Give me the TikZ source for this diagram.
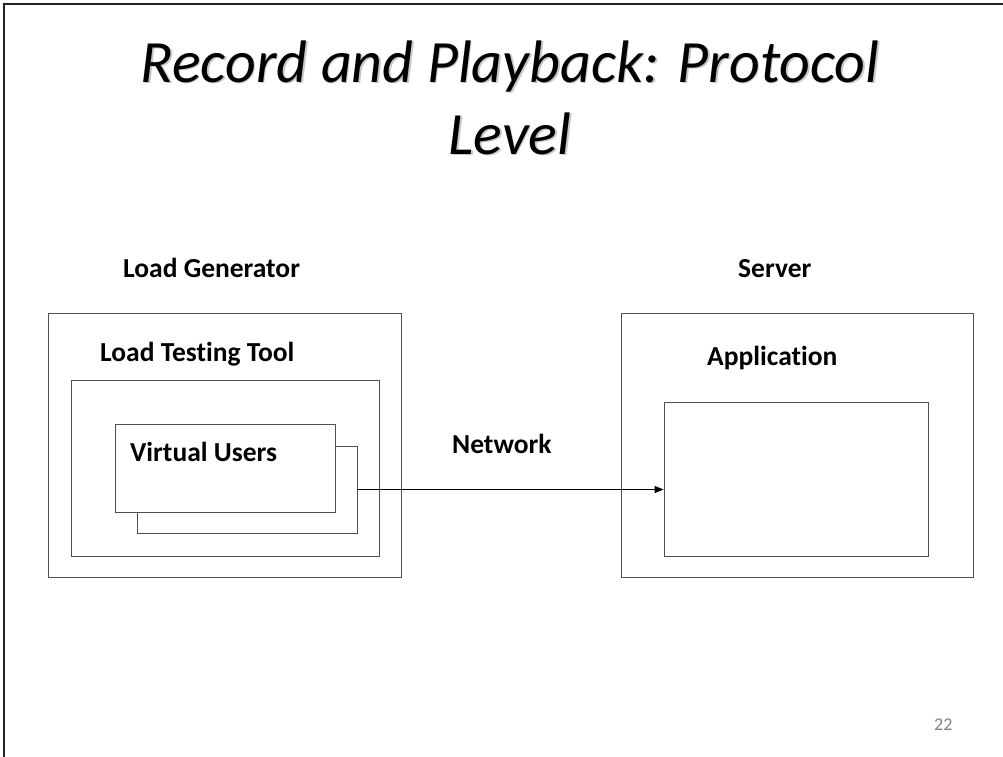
\documentclass[tikz,border=0pt]{standalone}
\usepackage{fontspec}
\setmainfont{Carlito}[Ligatures=NoCommon]
\usetikzlibrary{arrows.meta,positioning}
\definecolor{boxline}{RGB}{80,80,80}
\definecolor{pagenum}{RGB}{130,130,130}
\tikzset{
  % boxes on the slide
  frame/.style={draw=boxline, line width=0.9pt, minimum width=#1, inner sep=0pt},
  frame/.default=2cm,
  % bold labels
  lbl/.style={font=\fontsize{27.5}{32}\selectfont\bfseries, inner sep=0pt, anchor=base west},
  ttl/.style={font=\fontsize{60}{72}\selectfont\itshape, align=center, inner sep=0pt, anchor=base},
  arr/.style={-{Triangle[length=9pt, width=7pt]}, line width=0.9pt, black},
}
\newcommand{\slidetitle}{Record and Playback: Protocol\\Level}
\begin{document}
\begin{tikzpicture}[x=1pt, y=-1pt]
    \useasboundingbox (0,0) rectangle (1003,756);
    \fill[white] (0,0) rectangle (1003,756);
    % slide border
    \draw[line width=2.5pt, black!85] (4,760) -- (4,4) -- (1010,4);

    % title
    \node[ttl, text=black!22] (titleshadow) at (511.5,155.5) {\slidetitle};
    \node[ttl] (title) at (510,154) {\slidetitle};

    % load generator side
    \node[frame=353pt, minimum height=264pt] (gen) at (224.5,445) {};
    \node[frame=308pt, minimum height=176pt] (tool) at (225,468) {};
    \node[frame=220pt, minimum height=87pt] (vuback) at (247,489.5) {};
    \node[frame=220pt, minimum height=88pt, fill=white] (vufront) at (225,468) {};

    % server side
    \node[frame=352pt, minimum height=264pt] (server) at (797,445) {};
    \node[frame=264pt, minimum height=154pt] (app) at (796,479) {};

    \node[lbl] (genlbl) at (123,277) {Load Generator};
    \node[lbl] (serverlbl) at (738,277) {Server};
    \node[lbl] (toollbl) at (100,361) {Load Testing Tool};
    \node[lbl] (vulbl) at (130,461) {Virtual Users};
    \node[lbl] (applbl) at (707,365) {Application};
    \node[lbl] (netlbl) at (452,453) {Network};

    \draw[arr] (vuback.east) -- (vuback.east -| app.west);

    \node[font=\fontsize{18}{20}\selectfont, text=pagenum, inner sep=0pt, anchor=base west] (pnum) at (934,730) {22};
\end{tikzpicture}
\end{document}
